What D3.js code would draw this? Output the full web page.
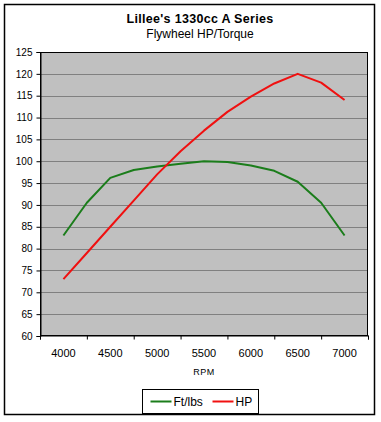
<!DOCTYPE html>
<html>
<head>
<meta charset="utf-8">
<script src="https://cdn.jsdelivr.net/npm/d3@7"></script>
<style>
  body { margin: 0; background: #fff; }
  text { font-family: "Liberation Sans", Arial, sans-serif; }
</style>
</head>
<body>
<svg id="chart_svg" width="381" height="422"></svg>
<script>
// data
var rpm = [4000, 4250, 4500, 4750, 5000, 5250, 5500, 5750, 6000, 6250, 6500, 6750, 7000];
var torque = [83, 90.5, 96.2, 98, 98.8, 99.4, 100, 99.8, 99, 97.8, 95.3, 90.5, 83];
var hp = [73, 79, 85, 91, 97, 102.3, 107, 111.3, 114.8, 117.8, 120, 118, 114];
var xLabels = [4000, 4500, 5000, 5500, 6000, 6500, 7000];
var yTicks = d3.range(60, 126, 5);
var seriesNames = ["Ft/lbs", "HP"];
var seriesColors = ["#1b7d1b", "#f01010"];

var plot = { left: 40, top: 52, right: 368, bottom: 336 };

var svg = d3.select('#chart_svg');

// outer frame
svg.append("rect")
    .attr("x", 4.5).attr("y", 4.5)
    .attr("width", 370).attr("height", 410)
    .attr("fill", "#fff")
    .attr("stroke", "#000")
    .attr("stroke-width", 1.5);

var x = d3.scaleLinear().domain([3750, 7250]).range([plot.left, plot.right]);
var y = d3.scaleLinear().domain([60, 125]).range([plot.bottom, plot.top]);

// plot area background
svg.append("rect")
    .attr("x", plot.left).attr("y", plot.top)
    .attr("width", plot.right - plot.left).attr("height", plot.bottom - plot.top)
    .attr("fill", "#c0c0c0");

// gridlines
svg.append("g")
    .selectAll("line")
    .data(yTicks.slice(1))
    .join("line")
    .attr("x1", plot.left).attr("x2", plot.right)
    .attr("y1", function(d) { return Math.round(y(d)) + 0.5; })
    .attr("y2", function(d) { return Math.round(y(d)) + 0.5; })
    .attr("stroke", "#808080")
    .attr("stroke-width", 1);

// plot border
svg.append("rect")
    .attr("x", plot.left + 0.5).attr("y", plot.top + 0.5)
    .attr("width", plot.right - plot.left - 1).attr("height", plot.bottom - plot.top - 1)
    .attr("fill", "none")
    .attr("stroke", "#000")
    .attr("stroke-width", 1);

// y axis
var yAxis = d3.axisLeft(y).tickValues(yTicks).tickSize(4).tickPadding(4);
var yg = svg.append("g")
    .attr("transform", "translate(" + (plot.left + 0.5) + ",0)")
    .call(yAxis);
yg.select(".domain").attr("stroke", "#000");
yg.selectAll("text").attr("font-size", "10px").attr("fill", "#000")
    .attr("font-family", "'Liberation Sans', Arial, sans-serif");

// x axis: tick marks between categories, labels centered on them
var xTickMarks = d3.range(3750, 7251, 500);
var xAxisTicks = d3.axisBottom(x).tickValues(xTickMarks).tickSize(4).tickFormat("");
var xg = svg.append("g")
    .attr("transform", "translate(0," + (plot.bottom - 0.5) + ")")
    .call(xAxisTicks);
xg.select(".domain").attr("stroke", "#000");

svg.append("g")
    .selectAll("text")
    .data(xLabels)
    .join("text")
    .attr("x", function(d) { return x(d); })
    .attr("y", 357)
    .attr("text-anchor", "middle")
    .attr("font-size", "11px")
    .text(function(d) { return d; });

svg.append("text")
    .attr("x", (plot.left + plot.right) / 2)
    .attr("y", 375)
    .attr("text-anchor", "middle")
    .attr("font-size", "9px")
    .attr("letter-spacing", "0.5px")
    .text("RPM");

// titles
svg.append("text")
    .attr("x", 200).attr("y", 23)
    .attr("text-anchor", "middle")
    .attr("font-size", "12.5px")
    .attr("font-weight", "bold")
    .attr("letter-spacing", "0.3px")
    .text("Lillee's 1330cc A Series");
svg.append("text")
    .attr("x", 200).attr("y", 37.5)
    .attr("text-anchor", "middle")
    .attr("font-size", "12px")
    .text("Flywheel HP/Torque");

// lines
var line = d3.line()
    .x(function(d) { return x(d[0]); })
    .y(function(d) { return y(d[1]); });

[torque, hp].forEach(function(vals, i) {
    svg.append("path")
        .datum(d3.zip(rpm, vals))
        .attr("d", line)
        .attr("fill", "none")
        .attr("stroke", seriesColors[i])
        .attr("stroke-width", 2)
        .attr("stroke-linejoin", "round");
});

// legend
var legend = svg.append("g").attr("transform", "translate(142.5,389.5)");
legend.append("rect")
    .attr("width", 116).attr("height", 24)
    .attr("fill", "#fff")
    .attr("stroke", "#000")
    .attr("stroke-width", 1);
var legendX = [8, 70];
seriesNames.forEach(function(name, i) {
    legend.append("line")
        .attr("x1", legendX[i]).attr("x2", legendX[i] + 21)
        .attr("y1", 12).attr("y2", 12)
        .attr("stroke", seriesColors[i])
        .attr("stroke-width", 2);
    legend.append("text")
        .attr("x", legendX[i] + 23).attr("y", 16.5)
        .attr("font-size", "12px")
        .text(name);
});
</script>
</body>
</html>
